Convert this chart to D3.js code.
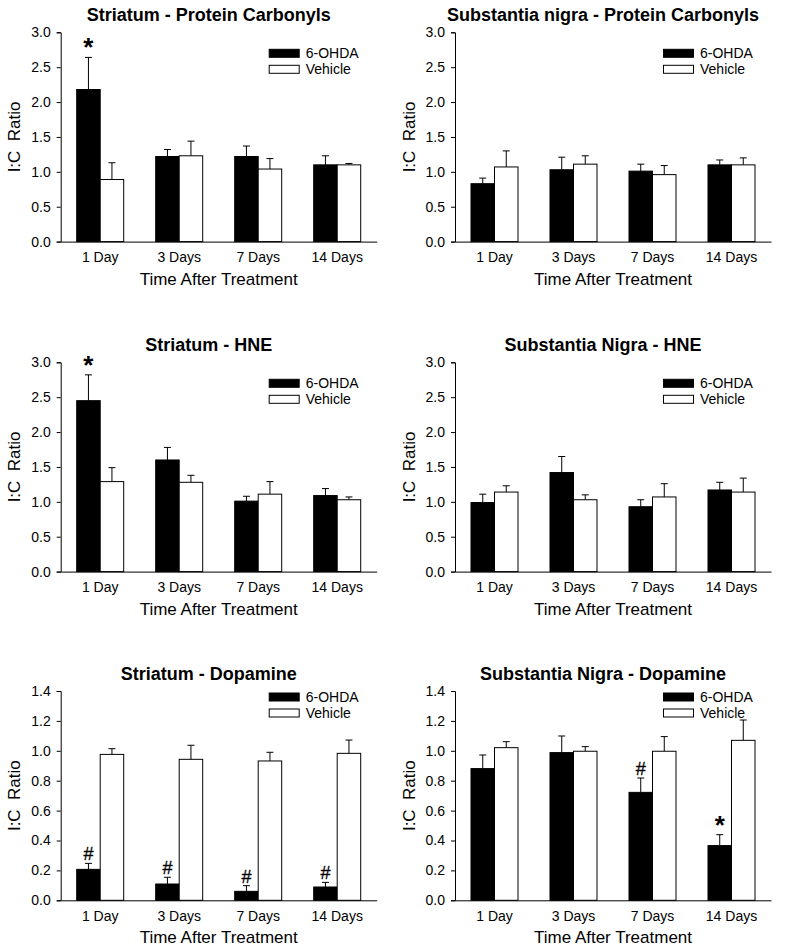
<!DOCTYPE html>
<html><head><meta charset="utf-8">
<script src="https://cdn.jsdelivr.net/npm/d3@7"></script>
<style>
html,body{margin:0;padding:0;background:#fff;}
svg text{font-family:"Liberation Sans",Arial,sans-serif;fill:#000;}
</style></head>
<body>
<svg id="chart" width="800" height="952"></svg>
<script>
const categories = ["1 Day", "3 Days", "7 Days", "14 Days"];
const seriesNames = ["6-OHDA", "Vehicle"];
const titles = ["Striatum - Protein Carbonyls", "Substantia nigra - Protein Carbonyls",
  "Striatum - HNE", "Substantia Nigra - HNE", "Striatum - Dopamine", "Substantia Nigra - Dopamine"];
const yMax = [3.0, 3.0, 3.0, 3.0, 1.4, 1.4];
const yStep = [0.5, 0.5, 0.5, 0.5, 0.2, 0.2];

// means (6-OHDA, Vehicle) and upper error bar ends
const stPcOhda = [2.18, 1.22, 1.22, 1.10];
const stPcOhdaErr = [2.64, 1.32, 1.37, 1.23];
const stPcVeh = [0.89, 1.23, 1.04, 1.10];
const stPcVehErr = [1.13, 1.44, 1.19, 1.12];

const snPcOhda = [0.83, 1.03, 1.01, 1.10];
const snPcOhdaErr = [0.91, 1.21, 1.11, 1.17];
const snPcVeh = [1.07, 1.11, 0.96, 1.10];
const snPcVehErr = [1.30, 1.23, 1.09, 1.20];

const stHneOhda = [2.45, 1.60, 1.01, 1.09];
const stHneOhdaErr = [2.82, 1.78, 1.08, 1.19];
const stHneVeh = [1.29, 1.28, 1.11, 1.03];
const stHneVehErr = [1.49, 1.38, 1.29, 1.07];

const snHneOhda = [0.99, 1.42, 0.93, 1.17];
const snHneOhdaErr = [1.11, 1.65, 1.03, 1.28];
const snHneVeh = [1.14, 1.03, 1.07, 1.14];
const snHneVehErr = [1.23, 1.10, 1.26, 1.34];

const stDaOhda = [0.207, 0.109, 0.060, 0.089];
const stDaOhdaErr = [0.247, 0.154, 0.098, 0.120];
const stDaVeh = [0.976, 0.943, 0.932, 0.983];
const stDaVehErr = [1.014, 1.037, 0.990, 1.072];

const snDaOhda = [0.881, 0.988, 0.722, 0.366];
const snDaOhdaErr = [0.972, 1.099, 0.818, 0.439];
const snDaVeh = [1.021, 0.997, 0.997, 1.070];
const snDaVehErr = [1.061, 1.028, 1.095, 1.206];

// significance markers: panel index, category index, symbol (on 6-OHDA bars)
const markerPanel = [0, 2, 4, 4, 4, 4, 5, 5];
const markerCat = [0, 0, 0, 1, 2, 3, 2, 3];
const markerSym = ["*", "*", "#", "#", "#", "#", "#", "*"];

const panelData = [
  [stPcOhda, stPcOhdaErr, stPcVeh, stPcVehErr],
  [snPcOhda, snPcOhdaErr, snPcVeh, snPcVehErr],
  [stHneOhda, stHneOhdaErr, stHneVeh, stHneVehErr],
  [snHneOhda, snHneOhdaErr, snHneVeh, snHneVehErr],
  [stDaOhda, stDaOhdaErr, stDaVeh, stDaVehErr],
  [snDaOhda, snDaOhdaErr, snDaVeh, snDaVehErr]
];

const colX = [60.7, 455];
const rowY = [32.3, 362.3, 691];
const plotW = 316, plotH = 209.3;
const legendDy = [17, 17, 2];

const svg = d3.select("#chart");

panelData.forEach((pd, pi) => {
  const col = pi % 2, row = Math.floor(pi / 2);
  const g = svg.append("g").attr("transform", `translate(${colX[col]},${rowY[row]})`);
  const x0 = d3.scaleBand().domain(categories).range([0, plotW]).paddingInner(0.405).paddingOuter(0.2025);
  const x1 = d3.scaleBand().domain(seriesNames).range([0, x0.bandwidth()]);
  const y = d3.scaleLinear().domain([0, yMax[pi]]).range([plotH, 0]);
  const ticks = d3.range(0, yMax[pi] + 1e-9, yStep[pi]);

  // bars
  seriesNames.forEach((s, si) => {
    const vals = pd[si * 2], errs = pd[si * 2 + 1];
    categories.forEach((c, ci) => {
      const bx = x0(c) + x1(s), bw = x1.bandwidth();
      const cx = bx + bw / 2;
      g.append("line").attr("x1", cx).attr("x2", cx).attr("y1", y(vals[ci])).attr("y2", y(errs[ci]))
        .attr("stroke", "#000").attr("stroke-width", 1);
      g.append("line").attr("x1", cx - 3.5).attr("x2", cx + 3.5).attr("y1", y(errs[ci])).attr("y2", y(errs[ci]))
        .attr("stroke", "#000").attr("stroke-width", 1);
      g.append("rect").attr("x", bx).attr("y", y(vals[ci])).attr("width", bw).attr("height", plotH - y(vals[ci]))
        .attr("fill", si === 0 ? "#000" : "#fff").attr("stroke", "#000").attr("stroke-width", 1);
    });
  });

  // y axis
  const yAxis = d3.axisLeft(y).tickValues(ticks).tickFormat(d3.format(".1f")).tickSizeOuter(0).tickSize(4).tickPadding(6);
  const ya = g.append("g").call(yAxis);
  ya.selectAll("text").attr("font-size", 14).style("font-family", '"Liberation Sans",Arial,sans-serif');
  ya.select(".domain").attr("stroke", "#000");
  ya.selectAll("line").attr("stroke", "#000");

  // x axis
  const xAxis = d3.axisBottom(x0).tickSize(0).tickPadding(10).tickSizeOuter(0);
  const xa = g.append("g").attr("transform", `translate(0,${plotH})`).call(xAxis);
  xa.selectAll("text").attr("font-size", 14).attr("dy", null).attr("dominant-baseline", "central").attr("y", 15.5)
    .style("font-family", '"Liberation Sans",Arial,sans-serif');
  xa.select(".domain").attr("stroke", "#000");

  // title
  g.append("text").attr("x", plotW / 2 - 10).attr("y", -17).attr("text-anchor", "middle")
    .attr("dominant-baseline", "central").attr("font-size", 18).attr("font-weight", "bold").text(titles[pi]);
  // x label
  g.append("text").attr("x", plotW / 2).attr("y", plotH + 37.5).attr("text-anchor", "middle")
    .attr("dominant-baseline", "central").attr("font-size", 17).text("Time After Treatment");
  // y label
  g.append("text").attr("transform", `translate(-46,${plotH / 2}) rotate(-90)`).attr("text-anchor", "middle")
    .attr("dominant-baseline", "central").attr("font-size", 17).style("white-space", "pre").text("I:C  Ratio");

  // legend
  seriesNames.forEach((s, si) => {
    const ly = legendDy[row] + si * 16;
    g.append("rect").attr("x", 208.5).attr("y", ly).attr("width", 30).attr("height", 8)
      .attr("fill", si === 0 ? "#000" : "#fff").attr("stroke", "#000").attr("stroke-width", 1);
    g.append("text").attr("x", 245).attr("y", ly + 4).attr("dominant-baseline", "central")
      .attr("font-size", 14).text(s);
  });

  // markers
  markerPanel.forEach((mp, mi) => {
    if (mp !== pi) return;
    const c = categories[markerCat[mi]];
    const cx = x0(c) + x1(seriesNames[0]) + x1.bandwidth() / 2;
    const top = y(pd[1][markerCat[mi]]);
    if (markerSym[mi] === "*") {
      g.append("text").attr("x", cx).attr("y", top - 1).attr("text-anchor", "middle")
        .attr("font-size", 26).attr("font-weight", "bold").text("*");
    } else {
      g.append("text").attr("x", cx).attr("y", top - 3).attr("text-anchor", "middle")
        .attr("font-size", 18).attr("stroke", "#000").attr("stroke-width", 0.3).text("#");
    }
  });
});
</script>
</body></html>
